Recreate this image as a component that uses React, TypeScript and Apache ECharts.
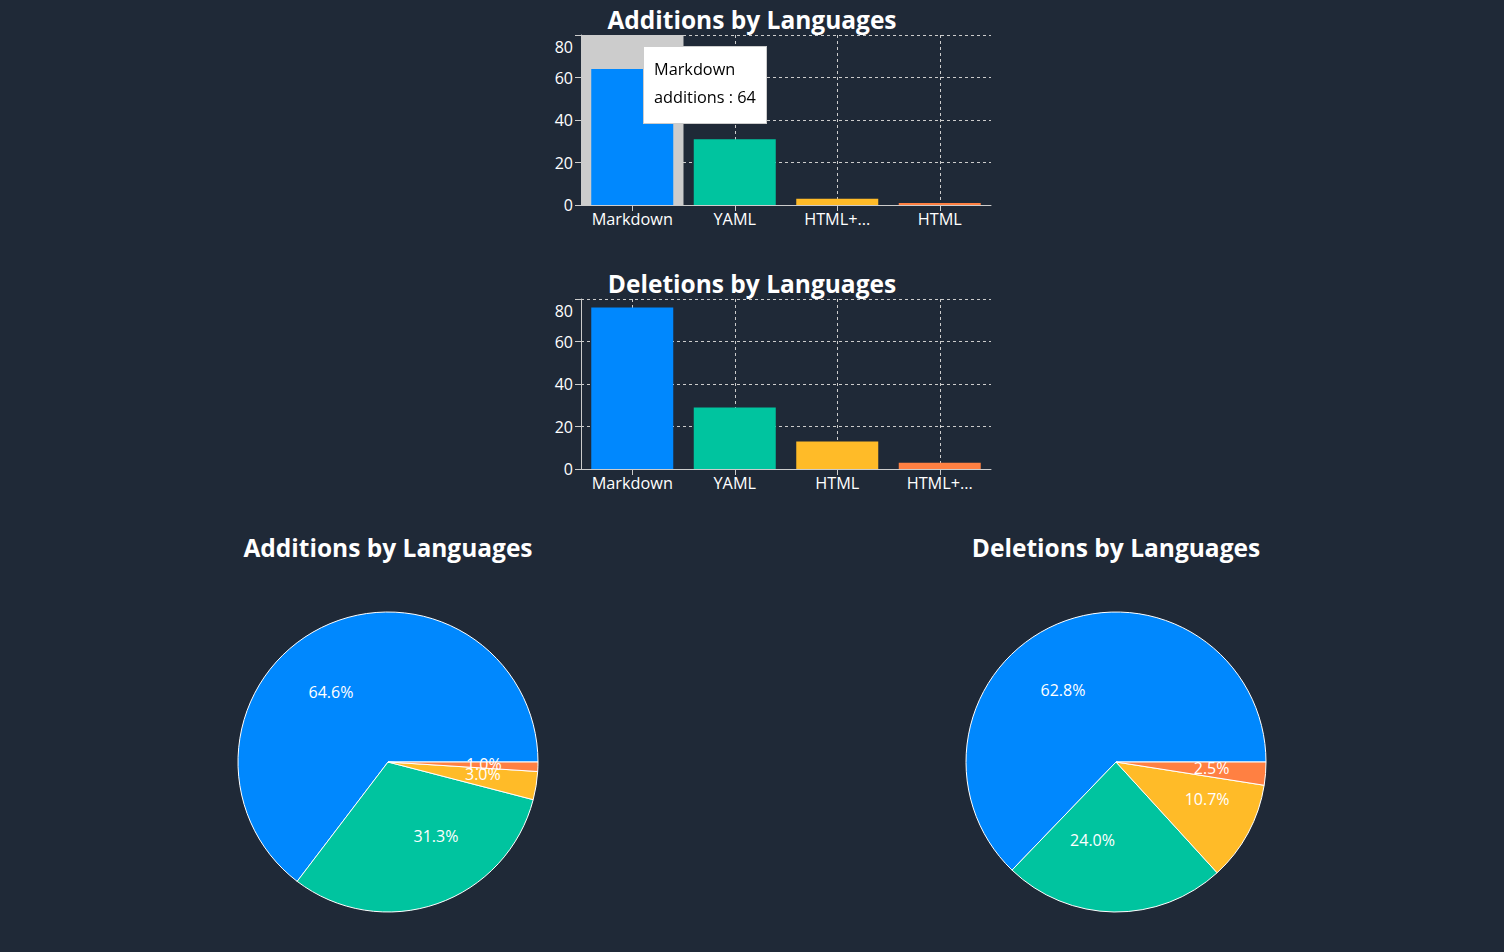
import { useEffect, useRef } from 'react';
import * as echarts from 'echarts';

const addCategories = ['Markdown', 'YAML', 'HTML+...', 'HTML'];
const addValues = [64, 31, 3, 1];
const delCategories = ['Markdown', 'YAML', 'HTML', 'HTML+...'];
const delValues = [76, 29, 13, 3];
const yMin = 0;
const yMax = 80;
const yInterval = 20;
const palette = ['#0088FE', '#00C49F', '#FFBB28', '#FF8042'];

const FONT = '"Open Sans", "Noto Sans", sans-serif';
const BG = '#1f2937';
const PIE_FS = 16;

function measure(t: string, font: string): number {
  const c = document.createElement('canvas').getContext('2d');
  if (!c) return t.length * 8;
  c.font = font;
  return c.measureText(t).width;
}

function pieData(cats: string[], vals: number[]) {
  const total = vals.reduce((a, b) => a + b, 0);
  let cum = 0;
  return cats.map((name, i) => {
    const v = vals[i];
    const mid = (cum + v / 2) / total;
    cum += v;
    const ang = mid * 2 * Math.PI;
    const right = Math.cos(ang) >= 0;
    const txt = ((v / total) * 100).toFixed(1) + '%';
    const w = measure(txt, `${PIE_FS}px ${FONT}`);
    return {
      name,
      value: v,
      itemStyle: { color: palette[i % palette.length] },
      label: { padding: right ? [0, 0, 0, w] : [0, w, 0, 0] },
    };
  });
}

function barData(vals: number[]) {
  return vals.map((v, i) => ({ value: v, itemStyle: { color: palette[i % palette.length] } }));
}

function pctFormatter(vals: number[]) {
  const total = vals.reduce((a, b) => a + b, 0);
  return (p: any) => ((p.value / total) * 100).toFixed(1) + '%';
}

export default function App() {
  const ref = useRef<HTMLDivElement>(null);
  useEffect(() => {
    if (!ref.current) return;
    document.body.style.margin = '0';
    document.body.style.background = BG;
    const chart = echarts.init(ref.current, null, { renderer: 'svg' });
    const gridLine = { show: true, lineStyle: { color: '#ccc', type: [3, 3], width: 1 } };
    const mkX = (gi: number, data: string[]) => ({
      type: 'category',
      gridIndex: gi,
      data,
      axisLine: { show: true, lineStyle: { color: '#ccc', width: 1 } },
      axisTick: { show: true, alignWithLabel: true, length: 6, lineStyle: { color: '#ccc' } },
      axisLabel: { color: '#fff', fontSize: 16.3, fontFamily: FONT, margin: 6, interval: 0 },
      splitLine: { ...gridLine, alignWithLabel: true },
    });
    const mkY = (gi: number) => ({
      type: 'value',
      gridIndex: gi,
      min: yMin,
      max: yMax,
      interval: yInterval,
      axisLine: { show: true, lineStyle: { color: '#ccc', width: 1 } },
      axisTick: { show: true, length: 6, lineStyle: { color: '#ccc' } },
      axisLabel: {
        color: '#fff',
        fontSize: 16,
        fontFamily: FONT,
        margin: 8,
        formatter: (v: number) => (v === yMax ? `{top|${v}}` : `${v}`),
        rich: { top: { padding: [24, 0, 0, 0], color: '#fff', fontSize: 16, fontFamily: FONT } },
      },
      splitLine: gridLine,
    });
    const titleStyle = { color: '#fff', fontSize: 24.5, fontWeight: 'bold', fontFamily: FONT };
    const mkTitle = (text: string, x: number, y: number) => ({
      text,
      left: x,
      top: y,
      textAlign: 'center',
      textVerticalAlign: 'middle',
      padding: 0,
      textStyle: titleStyle,
    });
    const pieCommon = {
      type: 'pie',
      radius: 150,
      startAngle: 0,
      clockwise: false,
      avoidLabelOverlap: false,
      minShowLabelAngle: 0,
      labelLayout: { hideOverlap: false },
      labelLine: { show: false },
      itemStyle: { borderColor: '#fff', borderWidth: 1 },
      emphasis: { disabled: true },
    };
    const barCommon = {
      type: 'bar',
      barCategoryGap: '20%',
      z: 2,
      emphasis: { disabled: true },
    };
    chart.setOption({
      animation: false,
      backgroundColor: BG,
      color: palette,
      title: [
        mkTitle('Additions by Languages', 752, 19),
        mkTitle('Deletions by Languages', 752, 283),
        mkTitle('Additions by Languages', 388, 547),
        mkTitle('Deletions by Languages', 1116, 547),
      ],
      tooltip: {
        trigger: 'axis',
        triggerOn: 'none',
        alwaysShowContent: true,
        transitionDuration: 0,
        axisPointer: { type: 'shadow', z: 1, shadowStyle: { color: '#ccc', opacity: 1 } },
        position: [643, 46],
        backgroundColor: '#fff',
        borderColor: '#ccc',
        borderWidth: 1,
        borderRadius: 0,
        padding: 10,
        extraCssText: 'box-shadow:none;border-radius:0;',
        textStyle: { color: '#000', fontSize: 16.3, fontFamily: FONT },
        formatter: (ps: any) => {
          const p = Array.isArray(ps) ? ps[0] : ps;
          return `<div style="line-height:24px;color:#000">${p.name}</div><div style="line-height:24px;padding:4px 0;color:#000">${p.seriesName} : ${p.value}</div>`;
        },
      },
      grid: [
        { left: 581, top: 35, width: 410, height: 170 },
        { left: 581, top: 299, width: 410, height: 170 },
      ],
      xAxis: [mkX(0, addCategories), mkX(1, delCategories)],
      yAxis: [mkY(0), mkY(1)],
      series: [
        { ...barCommon, name: 'additions', xAxisIndex: 0, yAxisIndex: 0, data: barData(addValues) },
        { ...barCommon, name: 'deletions', xAxisIndex: 1, yAxisIndex: 1, data: barData(delValues) },
        {
          ...pieCommon,
          name: 'additions',
          center: [388, 762],
          data: pieData(addCategories, addValues),
          label: { position: 'inside', color: '#fff', fontSize: PIE_FS, fontFamily: FONT, formatter: pctFormatter(addValues) },
        },
        {
          ...pieCommon,
          name: 'deletions',
          center: [1116, 762],
          data: pieData(delCategories, delValues),
          label: { position: 'inside', color: '#fff', fontSize: PIE_FS, fontFamily: FONT, formatter: pctFormatter(delValues) },
        },
      ],
    } as any);
    chart.dispatchAction({ type: 'showTip', seriesIndex: 0, dataIndex: 0 });
    return () => chart.dispose();
  }, []);
  return (
    <div
      ref={ref}
      style={{ position: 'fixed', left: 0, top: 0, width: 1504, height: 952, background: BG }}
    />
  );
}
